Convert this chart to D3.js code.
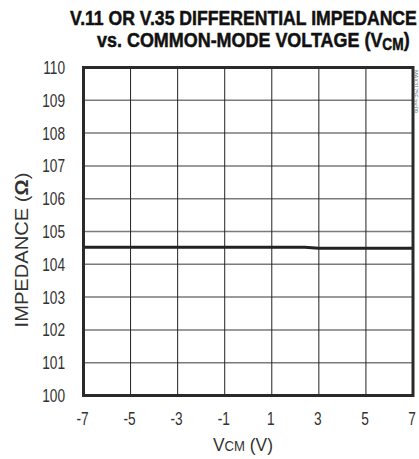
<!DOCTYPE html>
<html><head><meta charset="utf-8">
<script src="https://cdn.jsdelivr.net/npm/d3@7"></script>
<style>
html,body{margin:0;padding:0;background:#fff;}
svg{display:block;}
text{font-family:"Liberation Sans",Arial,sans-serif;}
</style></head><body>
<svg id="c" width="419" height="459"></svg>
<script>
const titleLine1 = "V.11 OR V.35 DIFFERENTIAL IMPEDANCE";
const titleLine2 = ["vs. COMMON-MODE VOLTAGE (V", "CM", ")"];
const xTicks = [-7, -5, -3, -1, 1, 3, 5, 7];
const yTicks = [100, 101, 102, 103, 104, 105, 106, 107, 108, 109, 110];
const vcm = [-7, -5, -3, -1, 1, 2.4, 3, 5, 7];
const impedance = [104.52, 104.52, 104.52, 104.52, 104.52, 104.52, 104.49, 104.49, 104.49];
const sideNote = "MAX3175E toc09";

const svg = d3.select("#c");
const L = 83.5, R = 413, T = 67.5, B = 395.5;
const x = d3.scaleLinear().domain([-7, 7]).range([L, R]);
const y = d3.scaleLinear().domain([100, 110]).range([B, T]);
const SX = 0.74; // horizontal condensing

// squeeze a text horizontally so its width equals target; anchor: start|middle
function fit(sel, tx, ty, target, rot) {
  const w = sel.node().getBBox().width;
  const s = target / w;
  sel.attr("transform", `translate(${tx},${ty})${rot ? ` rotate(${rot})` : ""} scale(${s},1)`);
}

// gridlines
svg.append("g").selectAll("line").data(yTicks).join("line")
  .attr("x1", L).attr("x2", R).attr("y1", d => y(d)).attr("y2", d => y(d))
  .attr("stroke", "#7a7a7a").attr("stroke-width", 1.5);
svg.append("g").selectAll("line").data(xTicks).join("line")
  .attr("x1", d => x(d)).attr("x2", d => x(d)).attr("y1", T).attr("y2", B)
  .attr("stroke", "#222").attr("stroke-width", 1);

// data line
const pts = vcm.map((v, i) => [v, impedance[i]]);
svg.append("path").datum(pts)
  .attr("d", d3.line().x(d => x(d[0])).y(d => y(d[1])))
  .attr("fill", "none").attr("stroke", "#222").attr("stroke-width", 3);

// frame
svg.append("rect").attr("x", L).attr("y", T).attr("width", R - L).attr("height", B - T)
  .attr("fill", "none").attr("stroke", "#2a2a2a").attr("stroke-width", 3);

// y tick labels
svg.append("g").selectAll("text").data(yTicks).join("text")
  .attr("transform", d => `translate(65,${y(d) + 6.5}) scale(${SX},1)`)
  .attr("text-anchor", "end")
  .attr("font-size", 18.5).attr("fill", "#333").text(d => d);
// x tick labels
svg.append("g").selectAll("text").data(xTicks).join("text")
  .attr("transform", d => `translate(${x(d) - 1},425) scale(${SX},1)`)
  .attr("text-anchor", "middle")
  .attr("font-size", 18.5).attr("fill", "#333").text(d => d);

// x axis title
const xt = svg.append("text").attr("text-anchor", "middle")
  .attr("font-size", 18.5).attr("fill", "#333");
xt.append("tspan").text("V");
xt.append("tspan").attr("font-size", 14).text("CM");
xt.append("tspan").text(" (V)");
fit(xt, 243, 451, 60);

// y axis title
const yt = svg.append("text").attr("text-anchor", "middle")
  .attr("font-size", 18.5).attr("fill", "#333");
yt.append("tspan").text("IMPEDANCE (");
yt.append("tspan").attr("font-weight", "bold").text("Ω");
yt.append("tspan").text(")");
fit(yt, 27.5, 250, 155, -90);

// title
const t1 = svg.append("text").attr("font-size", 21).attr("font-weight", "bold")
  .attr("fill", "#111").attr("stroke", "#111").attr("stroke-width", 0.5).text(titleLine1);
fit(t1, 70, 25, 347);
const t2 = svg.append("text").attr("font-size", 21).attr("font-weight", "bold")
  .attr("fill", "#111").attr("stroke", "#111").attr("stroke-width", 0.5);
t2.append("tspan").text(titleLine2[0]);
t2.append("tspan").attr("font-size", 16).attr("dy", 3).text(titleLine2[1]);
t2.append("tspan").attr("dy", -3).text(titleLine2[2]);
fit(t2, 97, 47, 313);

// side note
svg.append("text")
  .attr("transform", "translate(414,70) rotate(90)")
  .attr("font-size", 5.5).attr("fill", "#777").text(sideNote);
</script>
</body></html>
